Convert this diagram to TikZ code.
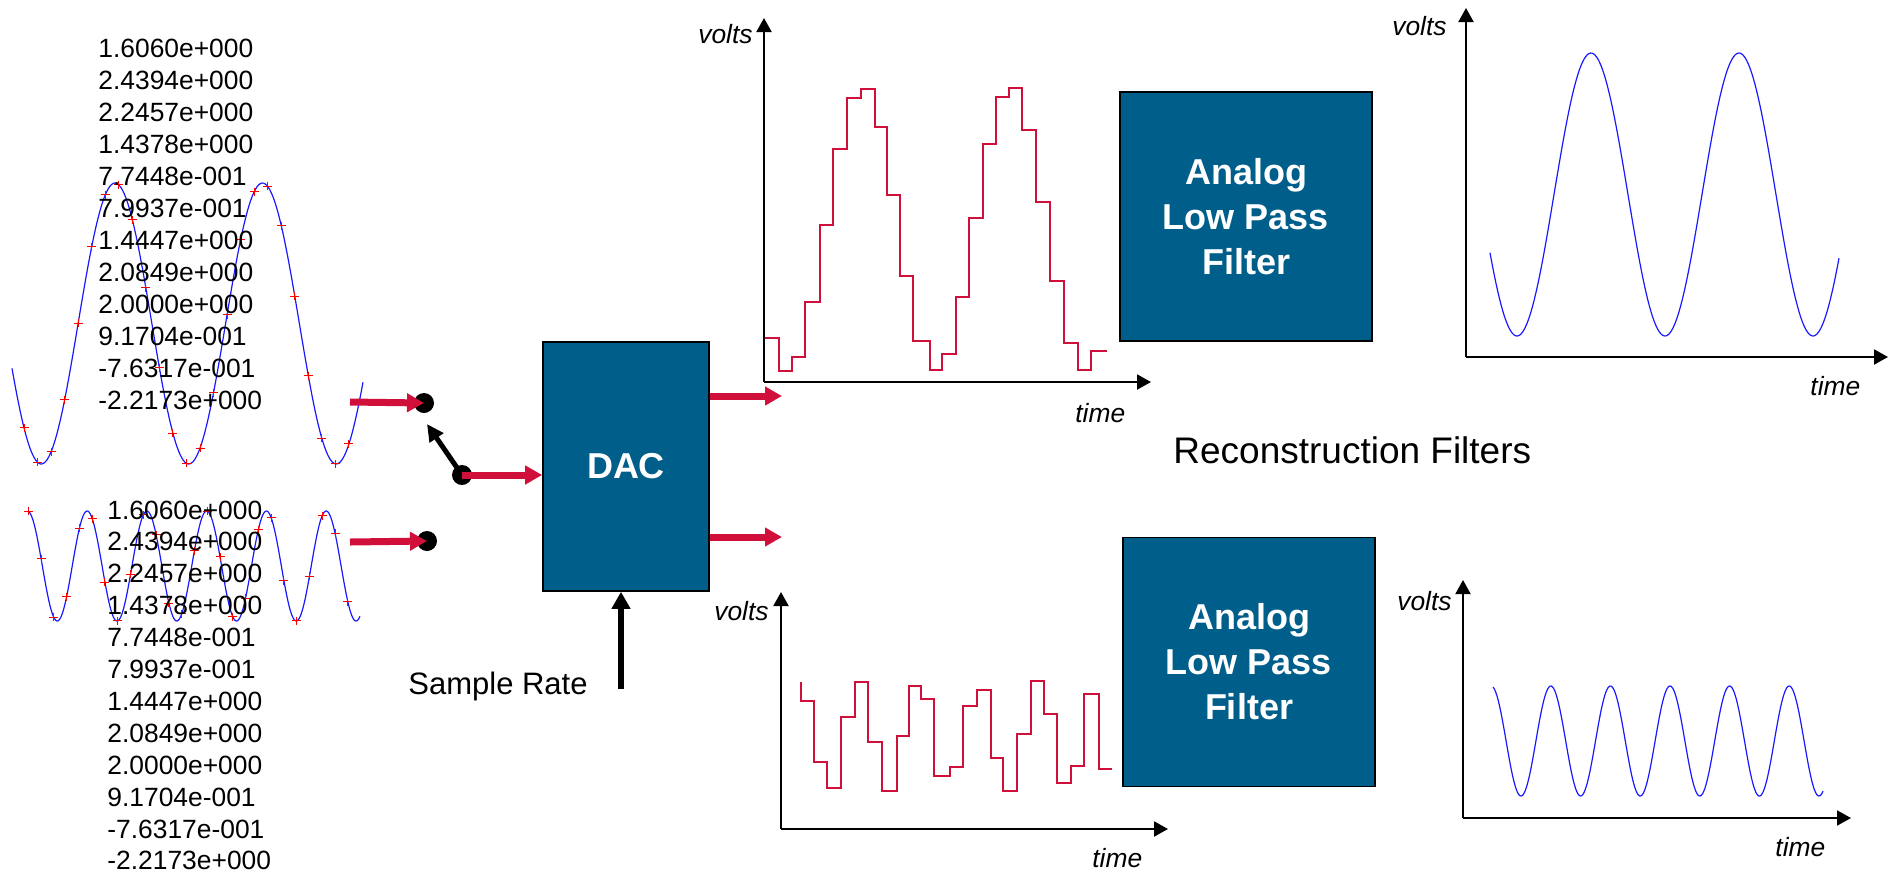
\documentclass[tikz,border=0pt]{standalone}
\usepackage{fontspec}
\setmainfont{Liberation Sans}
\usetikzlibrary{arrows.meta}
\definecolor{boxblue}{RGB}{0,94,138}
\definecolor{sigred}{RGB}{208,16,58}
\definecolor{wavecol}{RGB}{25,25,255}
\begin{document}
\begin{tikzpicture}[x=0.5pt,y=-0.5pt,
  numtext/.style={anchor=base west,inner sep=0,font=\fontsize{13.2}{16}\selectfont},
  axlabel/.style={inner sep=0,font=\fontsize{13.2}{16}\selectfont\itshape},
  bluebox/.style={draw=black,line width=0.8pt,fill=boxblue,text=white,
    font=\fontsize{18}{22.5}\selectfont\bfseries,align=center,inner sep=0,
    minimum width=126pt,minimum height=124.5pt},
  dot/.style={circle,fill=black,minimum size=10pt,inner sep=0},
  redarrow/.style={draw=sigred,line width=3.5pt,-{Triangle[length=8.5pt,width=9pt]}},
  blackarrow/.style={draw=black,line width=3pt,-{Triangle[length=8.5pt,width=9pt]}},
  axis/.style={draw=black,line width=1pt,-{Triangle[length=7pt,width=7.5pt]}},
  stair/.style={draw=sigred,line width=1pt},
  wavestyle/.style={draw=wavecol,line width=0.6pt},
  marker/.style={draw=red,line width=0.5pt}]
\useasboundingbox (0,0) rectangle (1897,875);

% ---------- input waves ----------
\draw[wavestyle] plot[domain=12:363,samples=220] (\x,{323.5-140.5*cos(2.440678*(\x-115))});
\foreach \k in {0,...,24}{
  \pgfmathsetmacro\mx{24+13.54*\k}
  \pgfmathsetmacro\my{323.5-140.5*cos(2.440678*(\mx-115))}
  \draw[marker] (\mx-4.5,\my) -- (\mx+4.5,\my) (\mx,\my-4) -- (\mx,\my+4);
}
\draw[wavestyle] plot[domain=28:360,samples=320] (\x,{566+55*cos(6.025105*(\x-57.3))});
\foreach \k in {0,...,25}{
  \pgfmathsetmacro\mx{28.3+12.78*\k}
  \pgfmathsetmacro\my{566+55*cos(6.025105*(\mx-57.3))}
  \draw[marker] (\mx-4.5,\my) -- (\mx+4.5,\my) (\mx,\my-4) -- (\mx,\my+4);
}

% ---------- number columns ----------
\foreach \t [count=\i from 0] in {1.6060e+000,2.4394e+000,2.2457e+000,1.4378e+000,7.7448e-001,7.9937e-001,1.4447e+000,2.0849e+000,2.0000e+000,9.1704e-001,-7.6317e-001,-2.2173e+000}{
  \node[numtext] (na\i) at (98,57+32*\i) {\t};
  \node[numtext] (nb\i) at (107,519+31.9*\i) {\t};
}

% ---------- switch and DAC ----------
\node[dot] (dot1) at (424,403) {};
\node[dot] (dot2) at (427,541) {};
\node[dot] (pivot) at (462,475) {};
\coordinate (in1) at (350,402);
\coordinate (in2) at (350,542);
\coordinate (swtip) at (427,424);
\draw[redarrow] (in1) -- (dot1.center);
\draw[redarrow] (in2) -- (dot2.center);
\draw[draw=black,line width=2.5pt,-{Triangle[length=8.5pt,width=8pt]}] (pivot.center) -- (swtip);

\node[bluebox,minimum width=83pt,minimum height=124.5pt] (dac) at (626,466.5) {DAC};
\draw[redarrow] (pivot.center) -- (pivot.center -| dac.west);

\coordinate (o1) at (782,396);
\coordinate (o2) at (782,537);
\draw[redarrow] (dac.east |- o1) -- (o1);
\draw[redarrow] (dac.east |- o2) -- (o2);

\coordinate (sr) at (621,689);
\draw[blackarrow] (sr) -- (sr |- dac.south);
\node[inner sep=0,anchor=base west,font=\fontsize{15.5}{18}\selectfont] (srlabel) at (408,694) {Sample Rate};

% ---------- top staircase graph ----------
\coordinate (ga) at (764,382);
\coordinate (gay) at (764,18);
\coordinate (gax) at (1151,382);
\draw[axis] (ga) -- (gay);
\draw[axis] (ga) -- (gax);
\node[axlabel,anchor=base east] (gavolts) at (753,43) {volts};
\node[axlabel,anchor=base west] (gatime) at (1075,422) {time};
\draw[stair] (765,338) -| (779,371) -| (792,357) -| (805,302) -| (820,225) -| (833,149)
  -| (847,98) -| (861,89) -| (875,127) -| (887,195) -| (900,276) -| (913,341) -| (930,370)
  -| (942,354) -| (956,297) -| (969,218) -| (983,144) -| (996,97) -| (1009,88) -| (1022,130)
  -| (1036,202) -| (1050,281) -| (1064,343) -| (1078,370) -| (1091,351) -- (1107,351);

% ---------- bottom staircase graph ----------
\coordinate (gb) at (781,829);
\coordinate (gby) at (781,592);
\coordinate (gbx) at (1168,829);
\draw[axis] (gb) -- (gby);
\draw[axis] (gb) -- (gbx);
\node[axlabel,anchor=base east] (gbvolts) at (769,620) {volts};
\node[axlabel,anchor=base west] (gbtime) at (1092,867) {time};
\draw[stair] (801,682) -- (801,701) -| (814,762) -| (827,788) -| (841,717) -| (855,682)
  -| (868,742) -| (882,791) -| (897,736) -| (909,686) -| (921,699) -| (934,776) -| (950,767)
  -| (963,706) -| (977,690) -| (991,758) -| (1003,791) -| (1017,734) -| (1031,681)
  -| (1044,714) -| (1057,783) -| (1071,766) -| (1084,694) -| (1099,769) -- (1112,769);

% ---------- filters ----------
\node[bluebox] (f1) at (1246,216.5) {Analog\\Low Pass\\Filter};
\node[bluebox] (f2) at (1249,662) {Analog\\Low Pass\\Filter};
\node[inner sep=0,anchor=base west,font=\fontsize{18.5}{22}\selectfont] (recon) at (1173,463) {Reconstruction Filters};

% ---------- top right output ----------
\coordinate (gc) at (1466,357);
\coordinate (gcy) at (1466,8);
\coordinate (gcx) at (1888,357);
\draw[axis] (gc) -- (gcy);
\draw[axis] (gc) -- (gcx);
\node[axlabel,anchor=base east] (gcvolts) at (1447,35) {volts};
\node[axlabel,anchor=base west] (gctime) at (1810,395) {time};
\draw[wavestyle] plot[domain=1490:1839,samples=220] (\x,{194.5+141.5*cos(2.432432*(\x-1517))});

% ---------- bottom right output ----------
\coordinate (gd) at (1463,818);
\coordinate (gdy) at (1463,580);
\coordinate (gdx) at (1851,818);
\draw[axis] (gd) -- (gdy);
\draw[axis] (gd) -- (gdx);
\node[axlabel,anchor=base east] (gdvolts) at (1452,610) {volts};
\node[axlabel,anchor=base west] (gdtime) at (1775,856) {time};
\draw[wavestyle] plot[domain=1493:1823,samples=320] (\x,{741+55*cos(6.040268*(\x-1521))});
\end{tikzpicture}
\end{document}
